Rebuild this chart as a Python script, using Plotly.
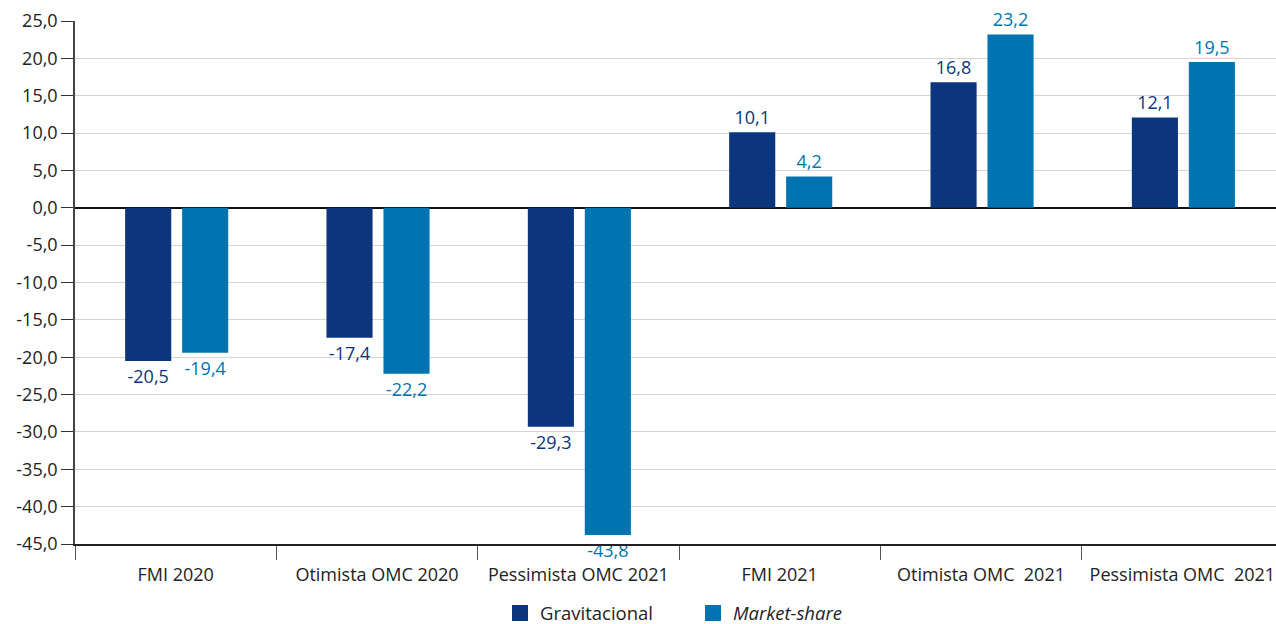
import plotly.graph_objects as go

categories = ["FMI 2020", "Otimista OMC 2020", "Pessimista OMC 2021",
              "FMI 2021", "Otimista OMC  2021", "Pessimista OMC  2021"]
gravitacional = [-20.5, -17.4, -29.3, 10.1, 16.8, 12.1]
market_share = [-19.4, -22.2, -43.8, 4.2, 23.2, 19.5]
y_ticks = [25, 20, 15, 10, 5, 0, -5, -10, -15, -20, -25, -30, -35, -40, -45]

def fmt(v):
    return f"{v:.1f}".replace(".", ",")

dark = "#0b357c"
light = "#0074b0"
font_family = "Open Sans, Noto Sans, sans-serif"

fig = go.Figure()
series = [("Gravitacional", gravitacional, dark, -0.251),
          ("<i>Market-share</i>", market_share, light, 0.032)]
for name, vals, color, off in series:
    fig.add_trace(go.Bar(
        x=categories, y=vals, name=name, showlegend=False,
        marker=dict(color=color, line=dict(width=0)),
        width=0.229, offset=off,
        text=[fmt(v) for v in vals], textposition="outside",
        textfont=dict(color=color, size=18, family=font_family),
        cliponaxis=False,
    ))
for name, vals, color, off in series:
    fig.add_trace(go.Scatter(
        x=[None], y=[None], mode="markers", name=name,
        marker=dict(symbol="square", size=16, color=color),
    ))

fig.update_layout(
    barmode="overlay",
    width=1276, height=624,
    margin=dict(l=75, r=0, t=21, b=80, autoexpand=False),
    plot_bgcolor="white", paper_bgcolor="white",
    font=dict(family=font_family, size=18, color="#222222"),
    showlegend=True,
    legend=dict(orientation="h", x=500 / 1276, xanchor="left", xref="container",
                y=0.017, yanchor="middle", yref="container",
                font=dict(size=18.5, color="#222222"), itemsizing="trace",
                entrywidth=148, entrywidthmode="pixels",
                traceorder="normal"),
)
fig.update_xaxes(
    type="category", categoryorder="array", categoryarray=categories,
    range=[-0.5, 5.465], showline=True, linecolor="#222222", linewidth=1.5,
    ticks="outside", tickson="boundaries", ticklen=14, tickcolor="#555555",
    ticklabelstandoff=14,
    showgrid=False, tickfont=dict(size=18, color="#222222"), zeroline=False,
    automargin=False,
)
fig.update_yaxes(
    range=[-45, 25], tickmode="array", tickvals=y_ticks,
    ticktext=[fmt(v) for v in y_ticks],
    showline=True, linecolor="#444444", linewidth=1.5,
    ticks="outside", ticklen=12, tickcolor="#333333",
    showgrid=True, gridcolor="#d4d4d4", gridwidth=1,
    zeroline=True, zerolinecolor="#111111", zerolinewidth=1.5,
    tickfont=dict(size=18, color="#222222"), automargin=False,
)
fig.write_html("out.html")
